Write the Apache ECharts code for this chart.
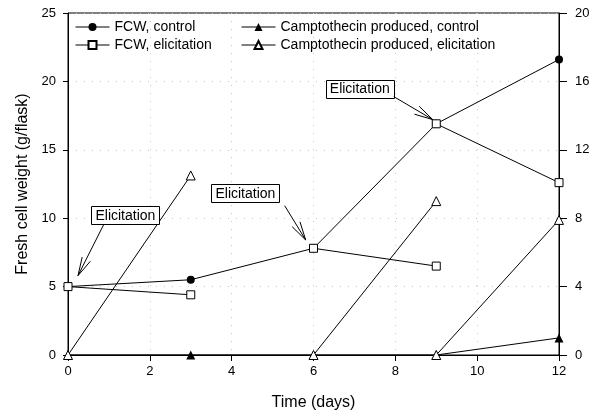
<!DOCTYPE html>
<html>
<head>
<meta charset="utf-8">
<script src="https://cdn.jsdelivr.net/npm/echarts@6/dist/echarts.min.js"></script>
<style>
html,body{margin:0;padding:0;background:#fff;}
#c{width:602px;height:416px;}
</style>
</head>
<body>
<div id="c"></div>
<script>
// ---- data ----
const days = [0, 3, 6, 9, 12];
const fcwControl = [5.0, 5.5, 7.8, 16.9, 21.6];
const campControl = [0, 0, 0, 0, 1.0];
const elicitStartDays = [0, 6, 9];
const elicitEndDays = [3, 9, 12];
const fcwElicitStart = [5.0, 7.8, 16.9];
const fcwElicitEnd = [4.4, 6.5, 12.6];
const campElicitStart = [0, 0, 0];
const campElicitEnd = [10.5, 9.0, 7.9];
const seriesNames = ['FCW, control', 'FCW, elicitation', 'Camptothecin produced, control', 'Camptothecin produced, elicitation'];
const xTitle = 'Time (days)';
const yTitle = 'Fresh cell weight (g/flask)';
const annotationText = 'Elicitation';

const FONT = 'Liberation Sans, Arial, sans-serif';
const chart = echarts.init(document.getElementById('c'), null, {renderer: 'canvas'});

const pairs = (xs, ys) => xs.map((x, i) => [x, ys[i]]);
const lineBase = {type: 'line', lineStyle: {color: '#000', width: 1}, emphasis: {disabled: true}, silent: true};
const filledStyle = {color: '#000'};
const emptyStyle = {color: '#fff', borderColor: '#000', borderWidth: 1};

const series = [
  Object.assign({}, lineBase, {name: seriesNames[0], symbol: 'circle', symbolSize: 8, itemStyle: filledStyle, data: pairs(days, fcwControl), z: 2}),
  Object.assign({}, lineBase, {name: seriesNames[2], yAxisIndex: 1, symbol: 'triangle', symbolSize: 9, itemStyle: filledStyle, data: pairs(days, campControl), z: 2})
];
for (let i = 0; i < elicitStartDays.length; i++) {
  series.push(Object.assign({}, lineBase, {name: seriesNames[1], symbol: 'rect', symbolSize: 8, itemStyle: emptyStyle, z: 3,
    data: [[elicitStartDays[i], fcwElicitStart[i]], [elicitEndDays[i], fcwElicitEnd[i]]]}));
}
for (let i = 0; i < elicitStartDays.length; i++) {
  series.push(Object.assign({}, lineBase, {name: seriesNames[3], yAxisIndex: 1, symbol: 'triangle', symbolSize: 9, itemStyle: emptyStyle, z: 3,
    data: [[elicitStartDays[i], campElicitStart[i]], [elicitEndDays[i], campElicitEnd[i]]]}));
}

const gridLine = {show: true, lineStyle: {color: '#c8c8c8', type: [1, 7], width: 1}};
const legendBase = {orient: 'vertical', itemWidth: 34, itemHeight: 10, itemGap: 4, selectedMode: false,
  lineStyle: {width: 1, color: '#000'},
  textStyle: {fontFamily: FONT, fontSize: 14, color: '#000'}};

chart.setOption({
  animation: false,
  backgroundColor: '#fff',
  grid: {left: 68, right: 43, top: 13, bottom: 60, show: true, borderColor: '#000', borderWidth: 1},
  legend: [
    Object.assign({}, legendBase, {left: 70, top: 15, data: [seriesNames[0], seriesNames[1]]}),
    Object.assign({}, legendBase, {left: 236, top: 15, data: [seriesNames[2], seriesNames[3]]})
  ],
  xAxis: {
    type: 'value', min: 0, max: 12, interval: 2,
    name: xTitle, nameLocation: 'middle', nameGap: 40,
    nameTextStyle: {fontFamily: FONT, fontSize: 16, color: '#000'},
    axisLine: {lineStyle: {color: '#000'}},
    axisTick: {show: true, length: 6, lineStyle: {color: '#000'}},
    axisLabel: {fontFamily: FONT, fontSize: 13, color: '#000', margin: 10},
    splitLine: gridLine
  },
  yAxis: [
    {
      type: 'value', min: 0, max: 25, interval: 5,
      name: yTitle, nameLocation: 'middle', nameGap: 36, nameRotate: 90,
      nameTextStyle: {fontFamily: FONT, fontSize: 16, color: '#000'},
      axisLine: {show: true, lineStyle: {color: '#000'}},
      axisTick: {show: true, length: 5, lineStyle: {color: '#000'}},
      axisLabel: {fontFamily: FONT, fontSize: 13, color: '#000', margin: 12},
      splitLine: gridLine
    },
    {
      type: 'value', min: 0, max: 20, interval: 4, position: 'right',
      axisLine: {show: true, lineStyle: {color: '#000'}},
      axisTick: {show: true, length: 8, lineStyle: {color: '#000'}},
      axisLabel: {fontFamily: FONT, fontSize: 13, color: '#000', margin: 16},
      splitLine: {show: false}
    }
  ],
  series: series
});

// ---- annotations: "Elicitation" boxes with arrows pointing at elicitation points ----
const annOffsets = [
  {tip: [10, -11], start: [35.7, -62], box: [23.4, -80.5]},
  {tip: [-7.8, -8.3], start: [-28.8, -42.6], box: [-102.1, -64.3]},
  {tip: [-3.5, -4.2], start: [-42.5, -27.2], box: [-110.5, -44.2]}
];
const boxW = 68, boxH = 18;
const graphics = [];
for (let i = 0; i < elicitStartDays.length; i++) {
  const p = chart.convertToPixel({xAxisIndex: 0, yAxisIndex: 0}, [elicitStartDays[i], fcwElicitStart[i]]);
  const o = annOffsets[i];
  const tip = [p[0] + o.tip[0], p[1] + o.tip[1]];
  const st = [p[0] + o.start[0], p[1] + o.start[1]];
  const bx = p[0] + o.box[0], by = p[1] + o.box[1];
  graphics.push({type: 'rect', shape: {x: Math.round(bx) + 0.5, y: Math.round(by) + 0.5, width: boxW, height: boxH},
    style: {fill: '#fff', stroke: '#000', lineWidth: 1}, z: 100});
  graphics.push({type: 'text', x: bx + boxW / 2, y: by + boxH / 2 + 1,
    style: {text: annotationText, font: '14px ' + FONT, fill: '#000', align: 'center', verticalAlign: 'middle'}, z: 101});
  graphics.push({type: 'line', shape: {x1: st[0], y1: st[1], x2: tip[0], y2: tip[1]}, style: {stroke: '#000', lineWidth: 1}, z: 100});
  const dx = st[0] - tip[0], dy = st[1] - tip[1];
  const L = Math.hypot(dx, dy), ux = dx / L, uy = dy / L;
  [14, -14].forEach(function (deg) {
    const a = deg * Math.PI / 180;
    const rx = ux * Math.cos(a) - uy * Math.sin(a), ry = ux * Math.sin(a) + uy * Math.cos(a);
    graphics.push({type: 'line', shape: {x1: tip[0], y1: tip[1], x2: tip[0] + rx * 19, y2: tip[1] + ry * 19},
      style: {stroke: '#000', lineWidth: 1}, z: 100});
  });
}
chart.setOption({graphic: graphics});
</script>
</body>
</html>
